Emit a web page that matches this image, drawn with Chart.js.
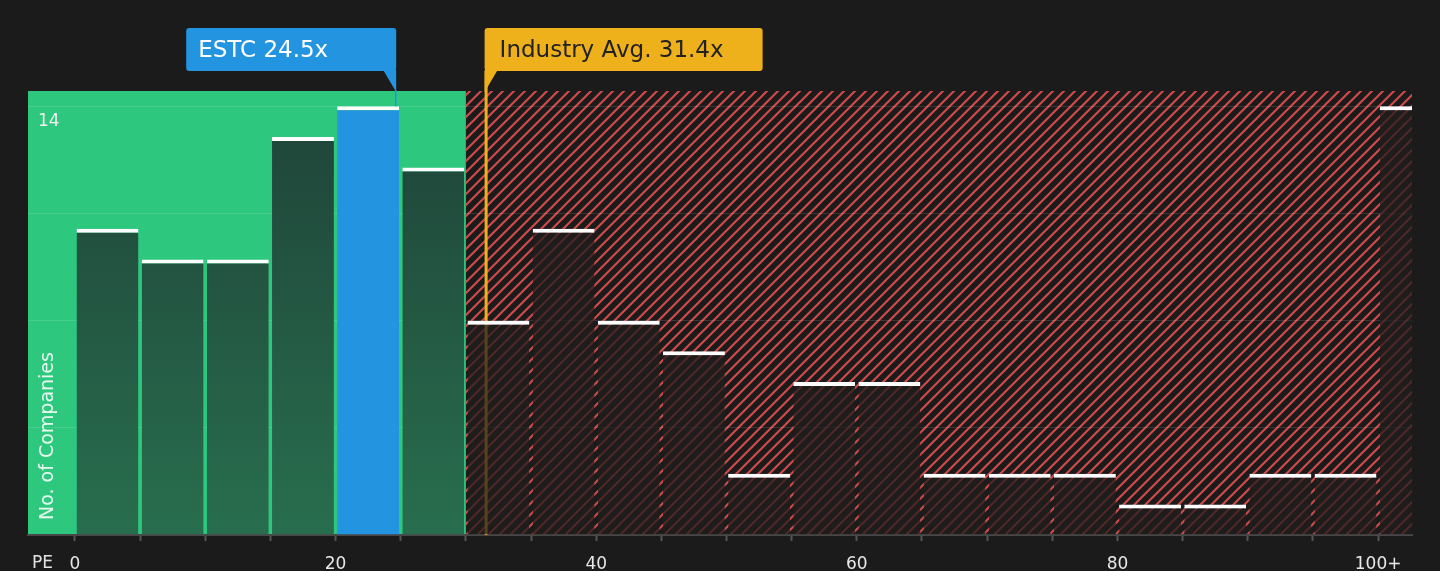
<!DOCTYPE html>
<html>
<head>
<meta charset="utf-8">
<script src="https://cdn.jsdelivr.net/npm/chart.js@4.4.0/dist/chart.umd.min.js"></script>
<style>
  html, body { margin: 0; padding: 0; background: #1b1b1b; }
  #wrap { width: 1440px; height: 571px; }
</style>
</head>
<body>
<div id="wrap"><canvas id="peChart"></canvas></div>
<script>
// PE histogram: each bin is 5 wide, the last one is "100+"
var binStarts = [0, 5, 10, 15, 20, 25, 30, 35, 40, 45, 50, 55, 60, 65, 70, 75, 80, 85, 90, 95, 100];
var companyCounts = [10, 9, 9, 13, 14, 12, 7, 10, 7, 6, 2, 5, 5, 2, 2, 2, 1, 1, 2, 2, 14];
var xTickValues = [0, 5, 10, 15, 20, 25, 30, 35, 40, 45, 50, 55, 60, 65, 70, 75, 80, 85, 90, 95, 100];
var xLabelValues = [0, 20, 40, 60, 80, 100];
var xLabelTexts = ['0', '20', '40', '60', '80', '100+'];
var yGridValues = [0, 3.5, 7, 10.5, 14];
var yLabelValues = [14];
var estcPE = 24.5;
var industryPE = 31.4;
var fairLimit = 30;
var xMin = -3.6, xMax = 102.6, yMax = 14.5;

Chart.defaults.font.family = '"DejaVu Sans", sans-serif';

var hatchPattern = null;
function getHatch(c) {
  if (hatchPattern) return hatchPattern;
  var t = document.createElement('canvas');
  t.width = 11; t.height = 11;
  var g = t.getContext('2d');
  g.strokeStyle = '#cf4a4a';
  g.lineWidth = 2.2;
  g.beginPath();
  g.moveTo(-2, 13); g.lineTo(13, -2);
  g.moveTo(-2, 2); g.lineTo(2, -2);
  g.moveTo(9, 13); g.lineTo(13, 9);
  g.stroke();
  hatchPattern = c.createPattern(t, 'repeat');
  return hatchPattern;
}

function barColor(ctx) {
  var chart = ctx.chart, area = chart.chartArea;
  var start = binStarts[ctx.dataIndex];
  if (estcPE >= start && estcPE < start + 5) return '#2394df';
  if (start < fairLimit) {
    if (!area) return '#235a45';
    var g = chart.ctx.createLinearGradient(0, area.top, 0, area.bottom);
    g.addColorStop(0, '#1f4238');
    g.addColorStop(1, '#286e4e');
    return g;
  }
  return 'rgba(32,29,29,0.74)';
}

function drawBox(c, left, width, fill) {
  var top = 28, h = 43, r = 3;
  c.fillStyle = fill;
  c.beginPath();
  c.moveTo(left + r, top);
  c.lineTo(left + width - r, top);
  c.quadraticCurveTo(left + width, top, left + width, top + r);
  c.lineTo(left + width, top + h - r);
  c.quadraticCurveTo(left + width, top + h, left + width - r, top + h);
  c.lineTo(left + r, top + h);
  c.quadraticCurveTo(left, top + h, left, top + h - r);
  c.lineTo(left, top + r);
  c.quadraticCurveTo(left, top, left + r, top);
  c.fill();
}

var peDecor = {
  id: 'peDecor',
  beforeDraw: function (chart) {
    var c = chart.ctx, a = chart.chartArea, x = chart.scales.x;
    c.save();
    c.fillStyle = '#1b1b1b';
    c.fillRect(0, 0, chart.width, chart.height);
    var edge = x.getPixelForValue(fairLimit);
    c.fillStyle = '#2ec77e';
    c.fillRect(a.left, a.top, edge - a.left, a.bottom - a.top);
    c.fillStyle = getHatch(c);
    c.fillRect(edge, a.top, a.right - edge, a.bottom - a.top);
    c.restore();
  },
  beforeDatasetsDraw: function (chart) {
    var c = chart.ctx, a = chart.chartArea;
    var px = chart.scales.x.getPixelForValue(industryPE) + 2;
    c.save();
    c.strokeStyle = '#efb11b';
    c.lineWidth = 3;
    c.beginPath();
    c.moveTo(px, 71);
    c.lineTo(px, a.bottom);
    c.stroke();
    c.restore();
  },
  afterDraw: function (chart) {
    var c = chart.ctx, a = chart.chartArea, x = chart.scales.x, y = chart.scales.y;
    c.save();
    // ESTC callout
    var ex = x.getPixelForValue(estcPE) + 2;
    drawBox(c, ex - 210, 210, '#2394df');
    c.beginPath();
    c.moveTo(ex - 13, 70); c.lineTo(ex, 70); c.lineTo(ex, 92); c.closePath();
    c.fill();
    var estcIdx = binStarts.findIndex(function (s) { return estcPE >= s && estcPE < s + 5; });
    c.strokeStyle = '#2394df';
    c.lineWidth = 1.5;
    c.beginPath();
    c.moveTo(ex - 0.5, 90); c.lineTo(ex - 0.5, y.getPixelForValue(companyCounts[estcIdx]));
    c.stroke();
    c.font = '23px "DejaVu Sans"';
    c.textBaseline = 'middle';
    c.textAlign = 'left';
    c.fillStyle = '#ffffff';
    c.fillText('ESTC ' + estcPE + 'x', ex - 198, 51);
    // industry callout
    var ix = x.getPixelForValue(industryPE) + 0.5;
    drawBox(c, ix, 278, '#efb11b');
    c.beginPath();
    c.moveTo(ix, 70); c.lineTo(ix + 13, 70); c.lineTo(ix, 92); c.closePath();
    c.fill();
    c.fillStyle = '#222222';
    c.fillText('Industry Avg. ' + industryPE + 'x', ix + 15, 51);
    // axis titles
    c.fillStyle = 'rgba(255,255,255,0.88)';
    c.font = '17px "DejaVu Sans"';
    c.fillText('PE', a.left + 4, a.bottom + 29);
    c.translate(a.left + 20, a.bottom - 15);
    c.rotate(-Math.PI / 2);
    c.font = '19px "DejaVu Sans"';
    c.fillText('No. of Companies', 0, 0);
    c.restore();
  }
};

new Chart(document.getElementById('peChart'), {
  type: 'bar',
  data: {
    datasets: [{
      data: binStarts.map(function (s, i) { return { x: s + 2.5, y: companyCounts[i] }; }),
      backgroundColor: barColor,
      borderColor: '#ffffff',
      borderWidth: { top: 4, right: 0, bottom: 0, left: 0 },
      barPercentage: 0.95,
      categoryPercentage: 1
    }]
  },
  options: {
    responsive: true,
    maintainAspectRatio: false,
    animation: false,
    layout: { padding: { top: 91, left: 28, right: 28, bottom: 0 } },
    plugins: { legend: { display: false }, tooltip: { enabled: false } },
    scales: {
      x: {
        type: 'linear',
        min: xMin,
        max: xMax,
        offset: false,
        afterBuildTicks: function (s) { s.ticks = xTickValues.map(function (v) { return { value: v }; }); },
        afterFit: function (s) { s.height = 36; },
        grid: { offset: false, drawOnChartArea: false, color: '#555555', tickLength: 6, tickWidth: 2 },
        border: { color: '#474747', width: 2 },
        ticks: {
          autoSkip: false,
          maxRotation: 0,
          padding: 13,
          color: '#e8e8e8',
          font: { size: 17 },
          callback: function (v) {
            var i = xLabelValues.indexOf(v);
            return i < 0 ? '' : xLabelTexts[i];
          }
        }
      },
      y: {
        min: 0,
        max: yMax,
        afterBuildTicks: function (s) { s.ticks = yGridValues.map(function (v) { return { value: v }; }); },
        afterFit: function (s) { s.width = 0; },
        grid: { color: 'rgba(255,255,255,0.12)', drawTicks: false },
        border: { display: false },
        ticks: {
          mirror: true,
          padding: 10,
          labelOffset: 15,
          color: '#f0f0f0',
          font: { size: 17 },
          callback: function (v) { return yLabelValues.indexOf(v) < 0 ? '' : String(v); }
        }
      }
    }
  },
  plugins: [peDecor]
});
</script>
</body>
</html>
